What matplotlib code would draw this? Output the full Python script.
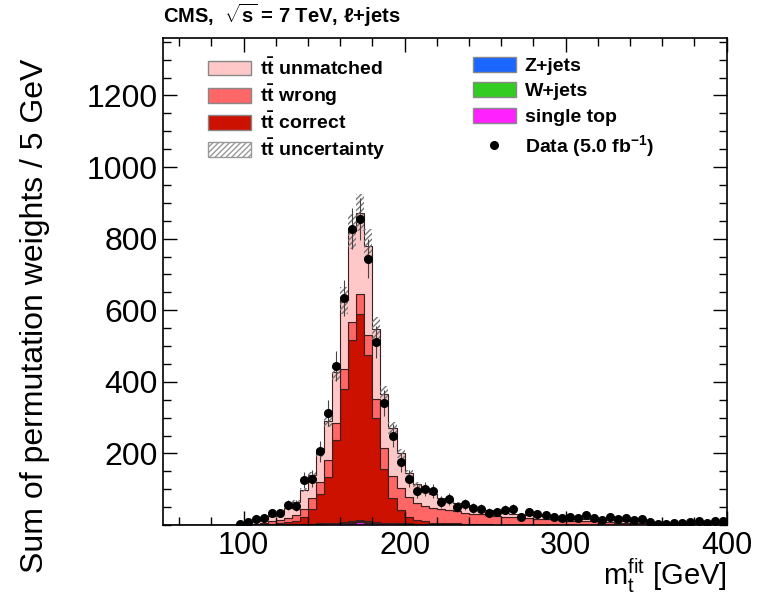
import numpy as np
import matplotlib
matplotlib.use("Agg")
import matplotlib.pyplot as plt
from matplotlib.patches import Patch
from matplotlib.lines import Line2D
from matplotlib.ticker import MultipleLocator

plt.rcParams['font.family'] = ['Liberation Sans', 'DejaVu Sans']
plt.rcParams['mathtext.fontset'] = 'custom'
plt.rcParams['mathtext.rm'] = 'Liberation Sans'
plt.rcParams['mathtext.it'] = 'Liberation Sans:italic'
plt.rcParams['mathtext.bf'] = 'Liberation Sans:bold'

# 5 GeV bins from 50 to 400
edges = np.arange(50, 405, 5)

# ttbar correct permutations
tt_correct = [0, 0, 0, 0, 0, 0, 0, 0, 0,
              0, 1, 1, 2, 2, 3, 5, 8, 18, 40, 82, 129, 231, 371, 506, 576, 464,
              290, 150, 70, 38, 18, 10, 6, 4, 3, 2, 2, 1, 1, 1, 1,
              0, 0, 0, 0, 0, 0, 0, 0, 0, 0, 0, 0, 0, 0, 0, 0, 0, 0, 0, 0, 0, 0,
              0, 0, 0, 0, 0, 0, 0]
# ttbar wrong permutations
tt_wrong = [0, 0, 0, 0, 0, 0, 0, 0, 0,
            1, 2, 3, 4, 6, 9, 12, 18, 24, 33, 33, 46, 47, 56, 51, 57, 56,
            55, 58, 62, 60, 55, 48, 44, 41, 38, 36, 33, 31, 29, 27, 25,
            24, 22, 21, 19, 18, 17, 16, 15, 13, 12, 11, 10, 10, 9, 8, 7, 7,
            6, 5, 5, 4, 4, 4, 3, 3, 3, 3, 2, 2]
# ttbar unmatched
tt_unmatched = [0, 0, 0, 0, 0, 0, 0, 0, 0,
                1, 3, 7, 10, 16, 20, 29, 36, 53, 62, 83, 110, 142, 193, 253, 227, 250,
                195, 152, 133, 97, 67, 52, 45, 40, 31, 27, 23, 21, 18, 16, 14,
                13, 12, 10, 10, 9, 8, 7, 6, 7, 6, 6, 6, 5, 5, 5, 5, 4,
                4, 5, 4, 4, 4, 3, 4, 3, 3, 2, 3, 3]
# backgrounds
single_top = [0, 0, 0, 0, 0, 0, 0, 0, 0,
              0, 0, 0, 1, 1, 1, 2, 2, 3, 3, 4, 5, 6, 7, 7, 8, 7,
              7, 6, 5, 4, 4, 3, 3, 2, 2, 2, 2, 1, 1, 1, 1,
              1, 1, 1, 1, 1, 1, 1, 1, 1, 0, 0, 0, 0, 0, 0, 0, 0,
              0, 0, 0, 0, 0, 0, 0, 0, 0, 0, 0, 0]
w_jets = [0, 0, 0, 0, 0, 0, 0, 0, 0,
          0, 0, 0, 0, 1, 1, 1, 1, 1, 1, 1, 1, 1, 1, 2, 4, 2,
          1, 1, 1, 1, 1, 1, 1, 1, 1, 1, 1, 1, 1, 1, 1,
          0, 0, 0, 0, 0, 0, 0, 0, 0, 0, 0, 0, 0, 0, 0, 0, 0,
          0, 0, 0, 0, 0, 0, 0, 0, 0, 0, 0, 0]
z_jets = [0, 0, 0, 0, 0, 0, 0, 0, 0,
          0, 0, 0, 0, 0, 0, 0, 0, 0, 0, 0, 0, 0, 0, 1, 1, 1,
          0, 0, 0, 0, 0, 0, 0, 0, 0, 0, 0, 0, 0, 0, 0,
          0, 0, 0, 0, 0, 0, 0, 0, 0, 0, 0, 0, 0, 0, 0, 0, 0,
          0, 0, 0, 0, 0, 0, 0, 0, 0, 0, 0, 0]
# data (5.0 fb-1)
data = [0, 0, 0, 0, 0, 0, 0, 0, 0,
        2, 8, 18, 19, 33, 33, 56, 54, 126, 130, 206, 313, 445, 635, 828, 856, 744,
        512, 341, 250, 176, 130, 95, 100, 95, 64, 72, 50, 58, 49, 46, 35,
        36, 43, 46, 22, 36, 31, 27, 22, 20, 22, 20, 27, 20, 15, 23, 17, 20,
        15, 17, 8, 3, 3, 5, 5, 8, 12, 5, 12, 12]

tt_unc_frac = 0.06

stack = [
    (single_top, '#ff22ff'),
    (w_jets, '#33cc22'),
    (z_jets, '#1a66ff'),
    (tt_correct, '#cc1100'),
    (tt_wrong, '#ff6666'),
    (tt_unmatched, '#ffc8c8'),
]

fig = plt.figure(figsize=(7.69, 5.96), dpi=100)
ax = fig.add_axes([0.212, 0.119, 0.733, 0.817])

bottom = np.zeros(len(edges) - 1)
for vals, col in stack:
    top = bottom + np.array(vals, dtype=float)
    ax.stairs(top, edges, baseline=bottom, fill=True, facecolor=col,
              edgecolor='#3a2020', linewidth=0.8)
    bottom = top

total = bottom
tt_sum = np.array(tt_correct) + np.array(tt_wrong) + np.array(tt_unmatched)
unc = tt_unc_frac * tt_sum
ax.stairs(total + unc, edges, baseline=total - unc, fill=True, facecolor='none',
          edgecolor='#777777', hatch='//////', linewidth=0)

data = np.array(data, dtype=float)
centers = 0.5 * (edges[1:] + edges[:-1])
m = data > 0
ax.errorbar(centers[m], data[m], yerr=2 * np.sqrt(data[m]), fmt='o', color='black',
            markersize=5.5, ecolor='#444444', elinewidth=0.8, capsize=0)

ax.set_xlim(50, 400)
ax.set_ylim(0, 1360)
ax.xaxis.set_minor_locator(MultipleLocator(20))
ax.yaxis.set_minor_locator(MultipleLocator(50))
ax.set_xticks([100, 200, 300, 400])
ax.set_yticks([200, 400, 600, 800, 1000, 1200])
ax.tick_params(which='both', direction='in', top=True, right=True, width=1.0)
ax.tick_params(which='major', length=10, labelsize=23)
ax.tick_params(axis='y', which='major', pad=4)
ax.tick_params(axis='x', which='major', pad=4, labelsize=22)
ax.tick_params(which='minor', length=5.5)
for s in ax.spines.values():
    s.set_linewidth(1.2)

ax.set_ylabel('Sum of permutation weights / 5 GeV', fontsize=23)
ax.yaxis.set_label_coords(-0.2, 0.43)
ax.set_xlabel(r'$\mathrm{m}_{\mathrm{t}}^{\mathrm{fit}}$ [GeV]', fontsize=21, ha='right')
ax.xaxis.set_label_coords(1.0, -0.064)

fig.text(0.212, 0.962, r'CMS,  $\sqrt{\mathbf{s}}$ = 7 TeV, ℓ+jets', fontsize=14.5,
         fontweight='bold', ha='left', va='baseline')

edge = '#888888'
h1 = [Patch(facecolor='#ffc8c8', edgecolor=edge, label=r'$\mathbf{t\bar{t}}$ unmatched'),
      Patch(facecolor='#ff6666', edgecolor=edge, label=r'$\mathbf{t\bar{t}}$ wrong'),
      Patch(facecolor='#cc1100', edgecolor=edge, label=r'$\mathbf{t\bar{t}}$ correct'),
      Patch(facecolor='white', edgecolor='#999999', hatch='//////',
            label=r'$\mathbf{t\bar{t}}$ uncertainty')]
h2 = [Patch(facecolor='#1a66ff', edgecolor=edge, label='Z+jets'),
      Patch(facecolor='#33cc22', edgecolor=edge, label='W+jets'),
      Patch(facecolor='#ff22ff', edgecolor=edge, label='single top'),
      Line2D([], [], marker='o', color='black', linestyle='none', markersize=5.5,
             label=r'Data (5.0 fb$\mathbf{^{-1}}$)')]
leg_kw = dict(frameon=False, prop={'size': 14, 'weight': 'bold'}, handlelength=2.2,
              handleheight=0.8, handletextpad=0.45, borderpad=0,
              borderaxespad=0, loc='upper left')
leg1 = ax.legend(handles=h1, bbox_to_anchor=(0.08, 0.96), labelspacing=0.2, **leg_kw)
ax.add_artist(leg1)
ax.legend(handles=h2, bbox_to_anchor=(0.55, 0.962), labelspacing=0.38, **leg_kw)

fig.savefig('out.png', dpi=100)
